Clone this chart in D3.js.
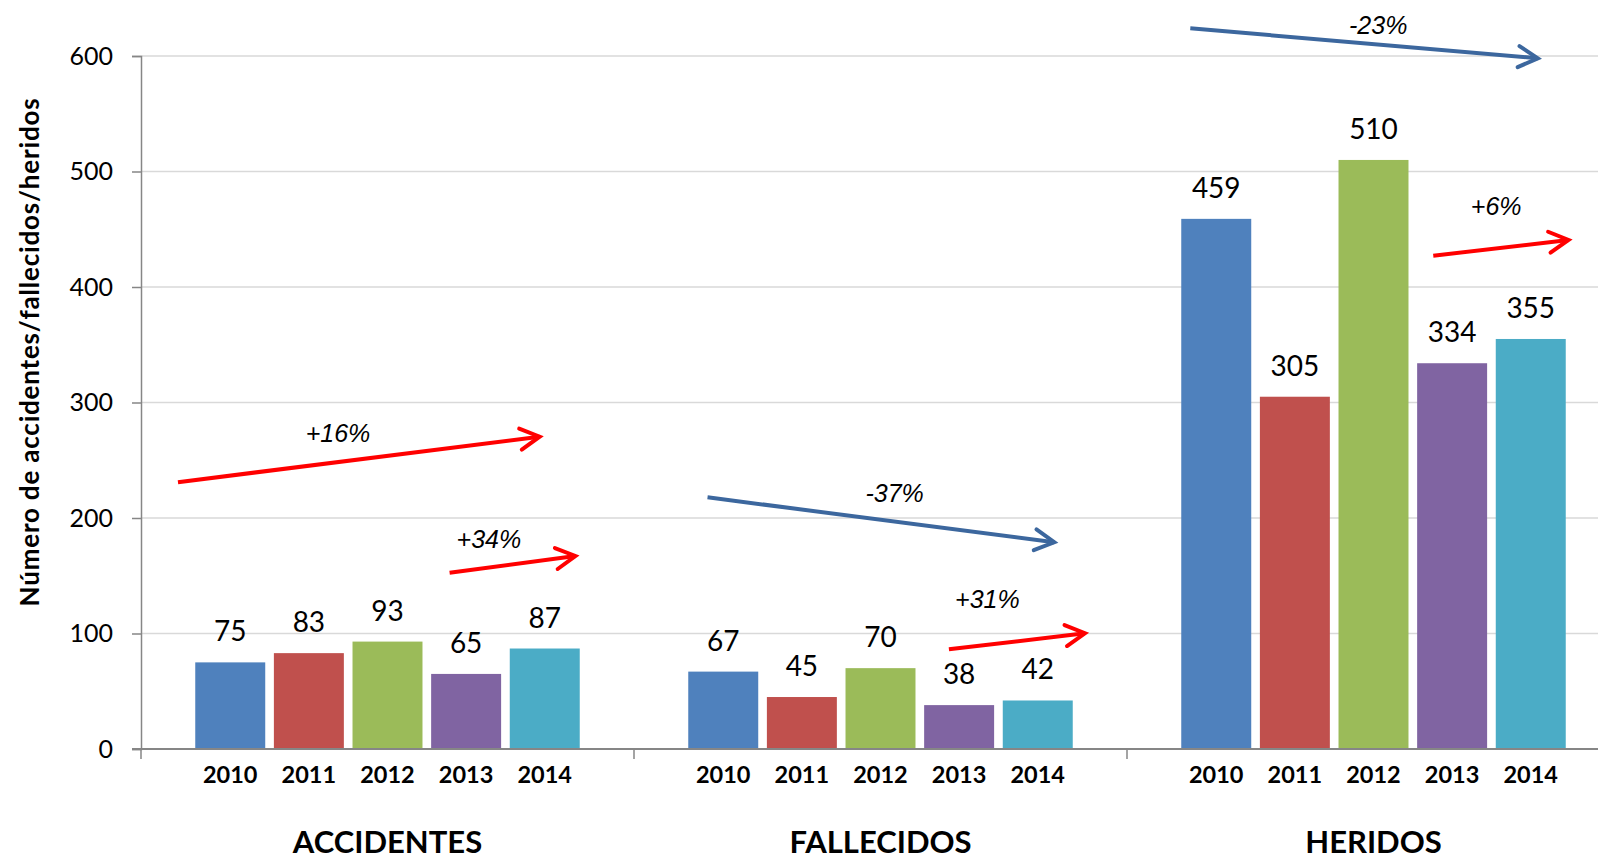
<!DOCTYPE html>
<html>
<head>
<meta charset="utf-8">
<script src="https://cdn.jsdelivr.net/npm/d3@7"></script>
<style>
  body { margin: 0; background: #fff; }
  svg { display: block; }
  text { font-family: Lato, "Noto Sans", sans-serif; }
  .note { font-family: "Liberation Sans", Arial, sans-serif; font-style: italic; }
</style>
</head>
<body>
<svg></svg>
<script>
var width = 1598, height = 855;

var categories = ["ACCIDENTES", "FALLECIDOS", "HERIDOS"];
var years = ["2010", "2011", "2012", "2013", "2014"];
var accidentes = [75, 83, 93, 65, 87];
var fallecidos = [67, 45, 70, 38, 42];
var heridos = [459, 305, 510, 334, 355];
var yTicks = [0, 100, 200, 300, 400, 500, 600];
var yearColors = ["#4f81bd", "#c0504d", "#9bbb59", "#8064a2", "#4bacc6"];

// trend arrows: category, from (year index, value) to (year index, value)
var trendCat = ["ACCIDENTES", "ACCIDENTES", "FALLECIDOS", "FALLECIDOS", "HERIDOS", "HERIDOS"];
var trendText = ["+16%", "+34%", "-37%", "+31%", "-23%", "+6%"];
var trendFrom = [[-0.665, 231], [2.79, 152.6], [-0.2, 217.9], [2.87, 86.3], [-0.33, 624], [2.76, 427.1]];
var trendTo = [[3.935, 270.4], [4.39, 167.1], [4.21, 179.0], [4.6, 100.2], [4.09, 598], [4.48, 440.7]];
var trendLabel = [[1.37, 273.6], [3.29, 181.6], [2.18, 221.6], [3.36, 129.6], [2.06, 626.8], [3.56, 469.5]];
var trendUp = [true, true, false, true, false, true];

var seriesByCat = [accidentes, fallecidos, heridos];
var data = [];
categories.forEach(function(c, ci) {
  years.forEach(function(y, yi) {
    data.push({cat: c, year: y, value: seriesByCat[ci][yi], yi: yi});
  });
});

var plotLeft = 141, plotTop = 56, plotBottom = 749;
var catW = 493;

var xCat = d3.scaleBand().domain(categories).range([plotLeft, plotLeft + catW * 3]);
var xYear = d3.scaleBand().domain(years).range([0, catW]).paddingInner(0.11).paddingOuter(0.69);
var yScale = d3.scaleLinear().domain([0, 600]).range([plotBottom, plotTop]);

function xPos(cat, t) {
  return xCat(cat) + xYear(years[0]) + xYear.bandwidth() / 2 + t * xYear.step();
}

var svg = d3.select("svg").attr("width", width).attr("height", height);

// gridlines
svg.append("g")
  .selectAll("line")
  .data(yTicks.filter(d => d > 0))
  .enter()
  .append("line")
  .attr("x1", plotLeft).attr("x2", width)
  .attr("y1", d => yScale(d)).attr("y2", d => yScale(d))
  .attr("stroke", "#d9d9d9").attr("stroke-width", 1.5);

// y axis
var yAxis = d3.axisLeft(yScale).tickValues(yTicks).tickSize(9).tickPadding(19).tickFormat(d3.format("d"));
var gy = svg.append("g").attr("transform", "translate(" + plotLeft + ",0)").call(yAxis);
gy.select(".domain").attr("stroke", "#868686").attr("stroke-width", 1.5);
gy.selectAll(".tick line").attr("stroke", "#868686").attr("stroke-width", 1.5);
gy.selectAll(".tick text").attr("font-family", "Lato, sans-serif").attr("font-size", "25px").attr("fill", "#000");

// bars
svg.append("g")
  .selectAll("rect")
  .data(data)
  .enter()
  .append("rect")
  .attr("x", d => xCat(d.cat) + xYear(d.year))
  .attr("y", d => yScale(d.value))
  .attr("width", xYear.bandwidth())
  .attr("height", d => plotBottom - yScale(d.value))
  .attr("fill", d => yearColors[d.yi]);

// value labels
svg.append("g")
  .selectAll("text")
  .data(data)
  .enter()
  .append("text")
  .attr("x", d => xCat(d.cat) + xYear(d.year) + xYear.bandwidth() / 2)
  .attr("y", d => yScale(d.value) - 21)
  .attr("text-anchor", "middle")
  .attr("font-size", "28px")
  .attr("fill", "#000")
  .text(d => d.value);

// x axis
svg.append("line")
  .attr("x1", plotLeft - 9).attr("x2", width)
  .attr("y1", plotBottom).attr("y2", plotBottom)
  .attr("stroke", "#868686").attr("stroke-width", 2);
svg.append("g")
  .selectAll("line")
  .data(categories)
  .enter()
  .append("line")
  .attr("x1", d => xCat(d)).attr("x2", d => xCat(d))
  .attr("y1", plotBottom).attr("y2", plotBottom + 10)
  .attr("stroke", "#868686").attr("stroke-width", 1.5);

// year labels
svg.append("g")
  .selectAll("text")
  .data(data)
  .enter()
  .append("text")
  .attr("x", d => xCat(d.cat) + xYear(d.year) + xYear.bandwidth() / 2)
  .attr("y", 783)
  .attr("text-anchor", "middle")
  .attr("font-size", "23.5px")
  .attr("font-weight", "bold")
  .text(d => d.year);

// category labels
svg.append("g")
  .selectAll("text")
  .data(categories)
  .enter()
  .append("text")
  .attr("x", d => xCat(d) + xCat.bandwidth() / 2)
  .attr("y", 853)
  .attr("text-anchor", "middle")
  .attr("font-size", "31px")
  .attr("font-weight", "bold")
  .text(d => d);

// y axis title
svg.append("text")
  .attr("transform", "rotate(-90)")
  .attr("x", -352)
  .attr("y", 39)
  .attr("text-anchor", "middle")
  .attr("font-size", "26px")
  .attr("font-weight", "bold")
  .attr("letter-spacing", "0.8px")
  .text("Número de accidentes/fallecidos/heridos");

// trend arrows
var trends = trendCat.map(function(c, i) {
  return {
    x1: xPos(c, trendFrom[i][0]), y1: yScale(trendFrom[i][1]),
    x2: xPos(c, trendTo[i][0]), y2: yScale(trendTo[i][1]),
    lx: xPos(c, trendLabel[i][0]), ly: yScale(trendLabel[i][1]),
    color: trendUp[i] ? "#ff0000" : "#3c679e",
    text: trendText[i]
  };
});

var ga = svg.append("g");
trends.forEach(function(t) {
  var ang = Math.atan2(t.y2 - t.y1, t.x2 - t.x1);
  var L = 22, spread = 0.5;
  var w1 = [t.x2 - L * Math.cos(ang - spread), t.y2 - L * Math.sin(ang - spread)];
  var w2 = [t.x2 - L * Math.cos(ang + spread), t.y2 - L * Math.sin(ang + spread)];
  ga.append("line")
    .attr("x1", t.x1).attr("y1", t.y1).attr("x2", t.x2).attr("y2", t.y2)
    .attr("stroke", t.color).attr("stroke-width", 4);
  ga.append("path")
    .attr("d", "M" + w1 + "L" + [t.x2, t.y2] + "L" + w2)
    .attr("fill", "none").attr("stroke", t.color).attr("stroke-width", 4)
    .attr("stroke-linecap", "round").attr("stroke-linejoin", "miter");
  ga.append("text")
    .attr("class", "note")
    .attr("x", t.lx).attr("y", t.ly)
    .attr("dy", "0.35em")
    .attr("text-anchor", "middle")
    .attr("font-size", "25px")
    .text(t.text);
});
</script>
</body>
</html>
